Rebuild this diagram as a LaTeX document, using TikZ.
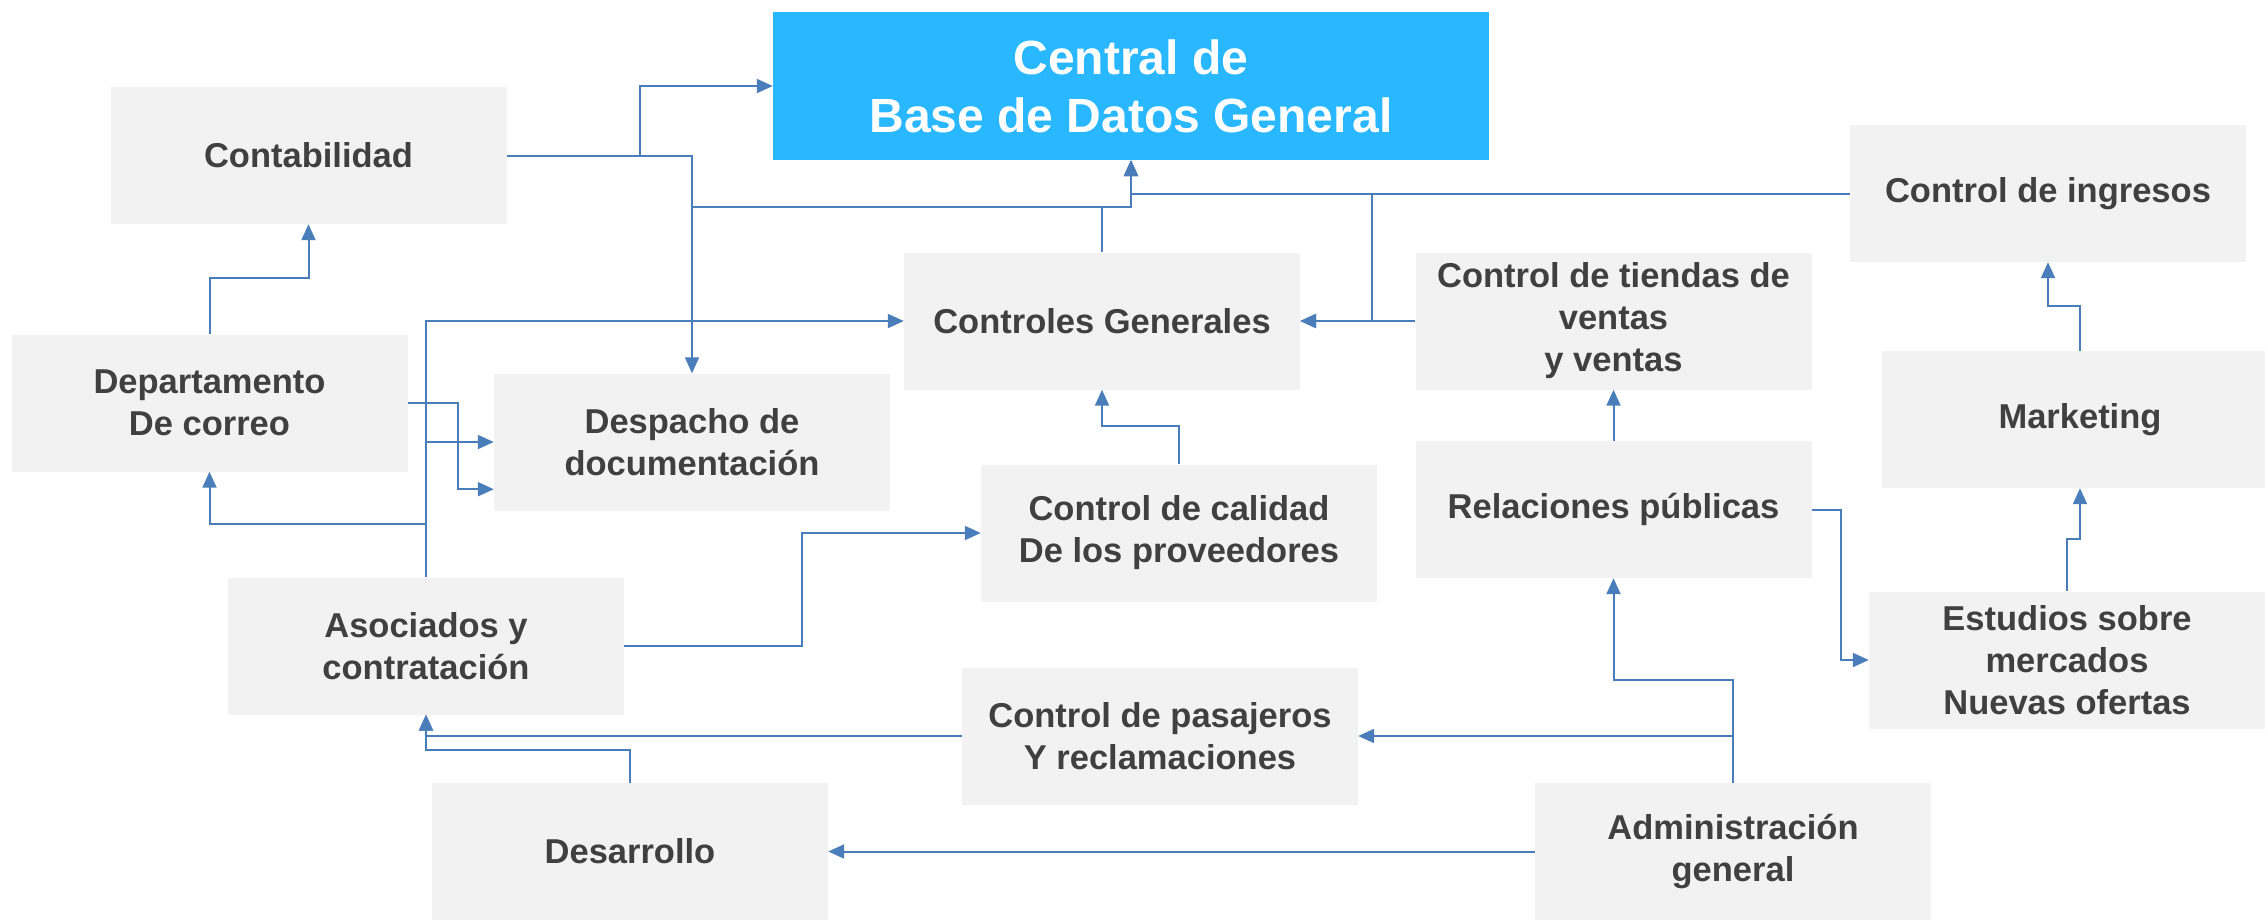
\documentclass[tikz,border=0pt]{standalone}
\usepackage{fontspec}
\setmainfont{Liberation Sans}
\usetikzlibrary{arrows.meta,calc}
\definecolor{boxfill}{HTML}{F2F2F2}
\definecolor{txt}{HTML}{404040}
\definecolor{cblue}{HTML}{29B8FF}
\definecolor{lineblue}{HTML}{4A7EBB}
\begin{document}
\begin{tikzpicture}[x=1pt,y=-1pt,
  box/.style={fill=boxfill,draw=none,inner sep=0pt,minimum width=396pt,minimum height=137pt,
    align=center,text=txt,font=\fontsize{34.5}{42}\selectfont\bfseries},
  mainbox/.style={fill=cblue,draw=none,inner sep=0pt,minimum width=716pt,minimum height=148pt,
    align=center,text=white,font=\fontsize{48}{58}\selectfont\bfseries},
  conn/.style={draw=lineblue,line width=2pt,-{Triangle[length=16pt,width=14pt]}},
  plain/.style={draw=lineblue,line width=2pt}]
\useasboundingbox (0,0) rectangle (2265,919);
\fill[white] (0,0) rectangle (2265,919);

\node[mainbox] (central) at (1131,86) {Central de\\Base de Datos General};
\node[box] (conta) at (308.5,155.5) {Contabilidad};
\node[box] (ingresos) at (2048,193.5) {Control de ingresos};
\node[box] (ctrlgen) at (1102,321) {Controles Generales};
\node[box] (tiendas) at (1613.5,321) {Control de tiendas de\\ventas\\y ventas};
\node[box] (depto) at (209.5,403) {Departamento\\De correo};
\node[box] (despacho) at (692,442) {Despacho de\\documentación};
\node[box] (marketing) at (2080,419.5) {Marketing};
\node[box] (relaciones) at (1613.5,509.5) {Relaciones públicas};
\node[box] (calidad) at (1179,533) {Control de calidad\\De los proveedores};
\node[box] (asociados) at (426,646) {Asociados y\\contratación};
\node[box] (estudios) at (2067,660) {Estudios sobre\\mercados\\Nuevas ofertas};
\node[box] (pasajeros) at (1160,736) {Control de pasajeros\\Y reclamaciones};
\node[box] (desarrollo) at (630,851.5) {Desarrollo};
\node[box] (admin) at (1733,851.5) {Administración\\general};

\coordinate (j0) at (692,206.5);
\coordinate (j1) at (1131,206.5);
\coordinate (j3) at (1372,193.5);

% Contabilidad
\draw[conn] (conta.east) -- (640,155.5) |- (central.west);
\draw[conn] (conta.east) -| (despacho.north);
\draw[conn] (j0) -- (j1) -- (central.south);
% Controles Generales -> Central
\draw[conn] (ctrlgen.north) |- (j1) -- (central.south);
% Control de ingresos
\draw[conn] (ingresos.west) -| (central.south);
\draw[conn] (j3) |- (ctrlgen.east);
% Tiendas -> Controles
\draw[conn] (tiendas.west) -- (ctrlgen.east);
% Departamento
\draw[conn] (depto.north) -- ++(0,-56) -| (conta.south);
\draw[conn] (depto.east) -- ++(50,0) |- ($(despacho.south west)+(0,-21.5)$);
% Asociados
\draw[conn] (asociados.north) |- (ctrlgen.west);
\draw[conn] (asociados.north) |- (despacho.west);
\draw[conn] (asociados.north) -- ++(0,-53.5) -| (depto.south);
\draw[conn] (asociados.east) -- ++(178,0) |- (calidad.west);
% Calidad -> Controles
\draw[conn] (calidad.north) -- ++(0,-38) -| (ctrlgen.south);
% Pasajeros, Desarrollo -> Asociados
\draw[conn] (pasajeros.west) -| (asociados.south);
\draw[conn] (desarrollo.north) -- ++(0,-33) -| (asociados.south);
% Administracion
\draw[conn] (admin.west) -- (desarrollo.east);
\draw[conn] (admin.north) |- (pasajeros.east);
\draw[conn] (admin.north) -- ++(0,-103) -| (relaciones.south);
% Relaciones
\draw[conn] (relaciones.east) -- ++(29,0) |- (estudios.west);
\draw[conn] (relaciones.north) -- (tiendas.south);
% Estudios -> Marketing -> Ingresos
\draw[conn] (estudios.north) -- ++(0,-52) -| (marketing.south);
\draw[conn] (marketing.north) -- ++(0,-45) -| (ingresos.south);
\end{tikzpicture}
\end{document}
